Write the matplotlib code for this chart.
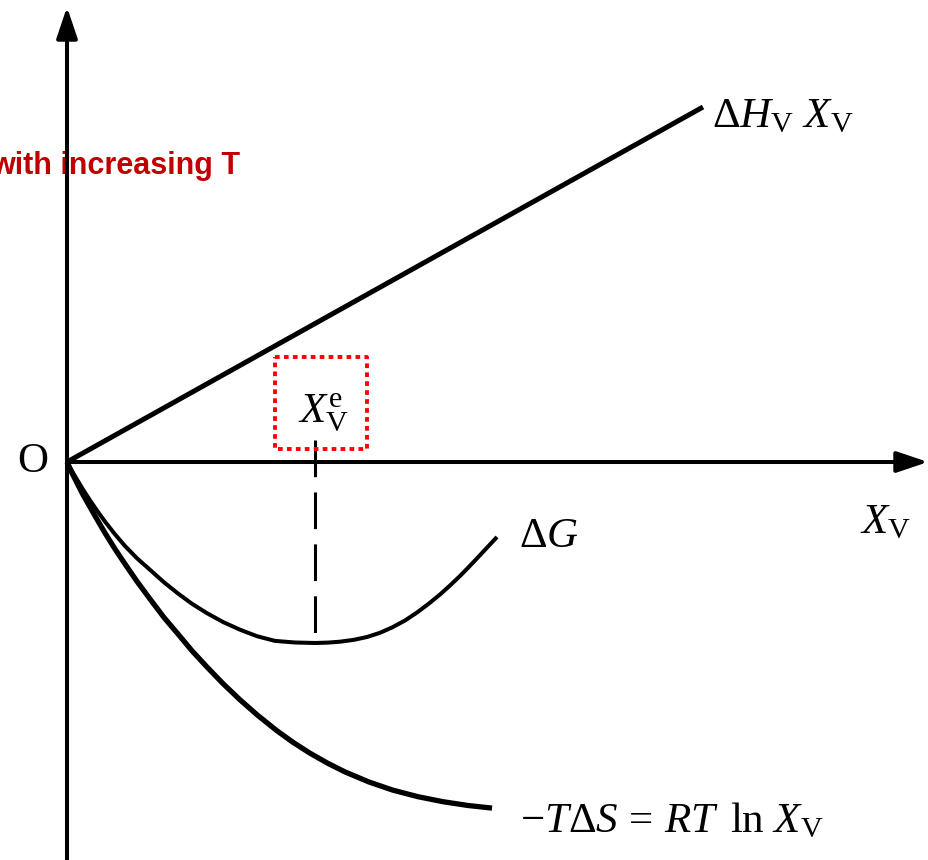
import matplotlib
matplotlib.use("Agg")
import matplotlib.pyplot as plt

plt.rcParams["mathtext.fontset"] = "custom"
plt.rcParams["mathtext.rm"] = "Liberation Serif"
plt.rcParams["mathtext.it"] = "Liberation Serif:italic"
plt.rcParams["mathtext.bf"] = "Liberation Serif:bold"

# ── Curve data (X_V along x, energy along y) ─────────────────────────────
enthalpy_x = [0.0, 6.36]
enthalpy_y = [0.0, 3.55]

entropy_x = [0.0, 0.05, 0.10, 0.16, 0.23, 0.30, 0.38, 0.48, 0.58, 0.70,
             0.83, 0.97, 1.11, 1.25, 1.40, 1.56, 1.73, 1.91, 2.10, 2.26,
             2.43, 2.61, 2.78, 3.02, 3.26, 3.51, 3.76, 4.01, 4.25]
entropy_y = [0.0, -0.11, -0.21, -0.327, -0.45, -0.573, -0.71, -0.87, -1.02,
             -1.194, -1.37, -1.555, -1.72, -1.888, -2.05, -2.216, -2.378,
             -2.536, -2.688, -2.803, -2.912, -3.014, -3.099, -3.20, -3.282,
             -3.347, -3.397, -3.435, -3.461]

gibbs_x = [0.0, 0.05, 0.10, 0.16, 0.23, 0.30, 0.38, 0.48, 0.58, 0.70,
           0.83, 0.97, 1.11, 1.25, 1.40, 1.56, 1.73, 1.90, 2.08, 2.28,
           2.48, 2.61, 2.73, 2.87, 3.00, 3.13, 3.25, 3.38, 3.50, 3.62,
           3.73, 3.83, 3.93, 4.02, 4.11, 4.21, 4.30]
gibbs_y = [0.0, -0.09, -0.175, -0.275, -0.383, -0.485, -0.596, -0.723, -0.84,
           -0.963, -1.078, -1.203, -1.315, -1.418, -1.512, -1.60, -1.677,
           -1.742, -1.789, -1.805, -1.81, -1.806, -1.797, -1.778, -1.75,
           -1.708, -1.655, -1.585, -1.505, -1.415, -1.325, -1.235, -1.14,
           -1.048, -0.953, -0.846, -0.75]

# equilibrium concentration = position of the ΔG minimum
x_eq = gibbs_x[gibbs_y.index(min(gibbs_y))]
y_eq_top = 0.22

XLIM = (-0.67, 8.62)
YLIM = (-3.98, 4.62)

fig = plt.figure(figsize=(9.29, 8.6), dpi=100)
ax = fig.add_axes([0, 0, 1, 1])
ax.set_xlim(*XLIM)
ax.set_ylim(*YLIM)
ax.axis("off")

# Coordinate axes with arrow heads
arrow = dict(arrowstyle="-|>,head_length=0.95,head_width=0.32", lw=2.9,
             color="black", mutation_scale=20, shrinkA=0, shrinkB=0)
ax.annotate("", xy=(0, 4.55), xytext=(0, YLIM[0] - 0.1), arrowprops=arrow, zorder=5)
ax.annotate("", xy=(8.61, 0), xytext=(0, 0), arrowprops=arrow, zorder=5)

# Curves
ax.plot(enthalpy_x, enthalpy_y, color="black", lw=3.6, solid_capstyle="butt", zorder=4)
ax.plot(entropy_x, entropy_y, color="black", lw=3.8, solid_capstyle="butt",
        solid_joinstyle="round", zorder=4)
ax.plot(gibbs_x, gibbs_y, color="black", lw=2.9, solid_capstyle="butt",
        solid_joinstyle="round", zorder=4)

# Equilibrium marker
ax.plot([x_eq, x_eq], [y_eq_top, min(gibbs_y) + 0.05], color="black", lw=2.2,
        dashes=(12, 5), zorder=4)

# Labels
serif = 31
ax.text(-0.34, 0.0, "O", family="Liberation Serif", fontsize=serif,
        ha="center", va="center")
ax.text(6.45, 3.35, r"$\Delta H_{\rm V}\ X_{\rm V}$", fontsize=serif, va="baseline")
ax.text(4.52, -0.85, r"$\Delta G$", fontsize=serif, va="baseline")
ax.text(7.93, -0.71, r"$X_{\rm V}$", fontsize=serif, va="baseline")
ax.text(4.53, -3.70, r"$-T\Delta S\,=\,RT\ \,\ln\,X_{\rm V}$", fontsize=serif,
        va="baseline")
ax.text(2.31, 0.40, r"$X_{\rm V}^{\rm e}$", fontsize=serif, va="baseline")

# Highlight box around the equilibrium label
box_x = [2.08, 3.00, 3.00, 2.08, 2.08]
box_y = [1.05, 1.05, 0.13, 0.13, 1.05]
ax.plot(box_x, box_y, color="#FF0000", lw=2.8, dashes=(1.2, 1.1), zorder=6)

ax.text(1.73, 2.88, "with increasing T", family="Liberation Sans", fontweight="bold",
        fontsize=22, color="#C00000", ha="right", va="baseline", zorder=3)

fig.savefig("out.png", dpi=100, facecolor="white")
plt.close(fig)
